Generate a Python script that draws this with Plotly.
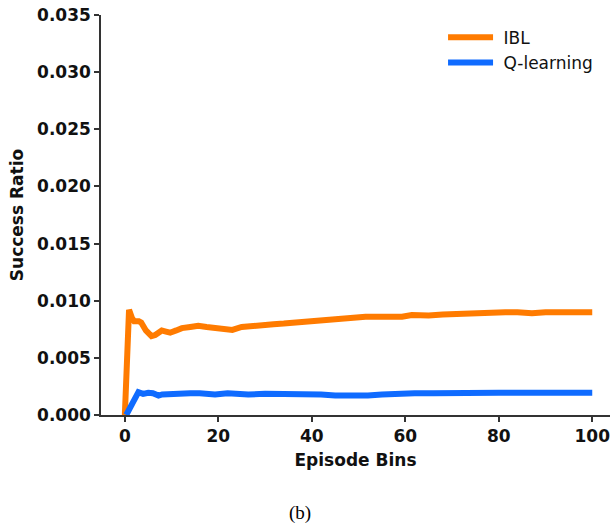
import plotly.graph_objects as go

# ---- data ----
ibl_x = [0, 0.9, 1.5, 2, 3, 3.5, 4.5, 5.7, 6.5, 7.9, 8.8, 9.7, 11, 12.2, 14, 15.7, 17.5,
         19.3, 21.4, 23, 25, 26.8, 29, 31.8, 34, 36.8, 39, 41.9, 44, 46.5, 49, 51.5, 55,
         59.3, 61.4, 65, 68, 72.8, 76, 81.4, 84, 87.1, 90, 93, 96.4, 98, 100]
ibl_y = [0, 0.0092, 0.0085, 0.0082, 0.0082, 0.0081, 0.0074, 0.0069, 0.0070, 0.0074, 0.0073,
         0.0072, 0.0074, 0.0076, 0.0077, 0.0078, 0.0077, 0.0076, 0.0076, 0.00745, 0.0077,
         0.0078, 0.0079, 0.00795, 0.0080, 0.0081, 0.0081, 0.00825, 0.0084, 0.00846, 0.0085,
         0.0086, 0.0086, 0.0086, 0.00875, 0.0087, 0.0088, 0.0089, 0.0089, 0.0090, 0.0090,
         0.0089, 0.0090, 0.0090, 0.00905, 0.0090, 0.0090]

q_x = [0.3, 1, 2, 2.9, 3.9, 5, 6, 7.2, 8, 9.3, 10.5, 12.2, 14, 16, 19.3, 22, 26.4, 30, 33.6,
       37.5, 42, 45, 48, 52, 55, 58.7, 62, 66, 70, 75, 80, 85, 90, 95, 100]
q_y = [0, 0.0006, 0.0014, 0.0020, 0.00185, 0.00195, 0.0019, 0.0017, 0.0018, 0.00184, 0.0018,
       0.00195, 0.0019, 0.0019, 0.0018, 0.0019, 0.0018, 0.00185, 0.00184, 0.0019, 0.0018,
       0.0017, 0.00166, 0.0017, 0.0018, 0.0019, 0.0019, 0.0019, 0.00195, 0.00195, 0.00195,
       0.00195, 0.00195, 0.00195, 0.00195]

x_ticks = [0, 20, 40, 60, 80, 100]
y_ticks = [0.000, 0.005, 0.010, 0.015, 0.020, 0.025, 0.030, 0.035]

ORANGE = "#ff7b00"
BLUE = "#0f6bff"

fig = go.Figure()
fig.add_trace(go.Scatter(x=ibl_x, y=ibl_y, mode="lines", name=" IBL",
                         line=dict(color=ORANGE, width=6)))
fig.add_trace(go.Scatter(x=q_x, y=q_y, mode="lines", name=" Q-learning",
                         line=dict(color=BLUE, width=6)))

tickfont = dict(family="DejaVu Sans", size=17, color="#111", weight="bold")
titlefont = dict(family="DejaVu Sans", size=17, color="#111", weight="bold")

fig.update_layout(
    width=610, height=529,
    margin=dict(l=101, r=0, t=15, b=114),
    plot_bgcolor="white", paper_bgcolor="white",
    showlegend=True,
    legend=dict(x=0.672, y=0.988, xanchor="left", yanchor="top",
                font=dict(family="DejaVu Sans", size=17, color="#111"),
                bgcolor="rgba(0,0,0,0)", itemwidth=45),
    xaxis=dict(range=[-5.1, 103.8], tickvals=x_ticks, ticks="outside", ticklen=5,
               tickwidth=1.5, tickcolor="#333", showline=True, linecolor="#333",
               linewidth=1.5, showgrid=False, zeroline=False, tickfont=tickfont,
               ticklabeloverflow="allow",
               title=dict(text="Episode Bins", font=titlefont, standoff=9)),
    yaxis=dict(range=[0, 0.035], tickvals=y_ticks, tickformat=".3f", ticks="outside",
               ticklen=5, tickwidth=1.5, tickcolor="#333", showline=True,
               linecolor="#333", linewidth=1.5, showgrid=False, zeroline=False,
               tickfont=tickfont,
               title=dict(text="Success Ratio", font=titlefont, standoff=9)),
)

fig.add_annotation(text="(b)", xref="paper", yref="paper", x=0.39, y=-0.245,
                   showarrow=False, xanchor="center", yanchor="middle",
                   font=dict(family="Liberation Serif", size=19, color="#000"))

fig.write_html("out.html")
